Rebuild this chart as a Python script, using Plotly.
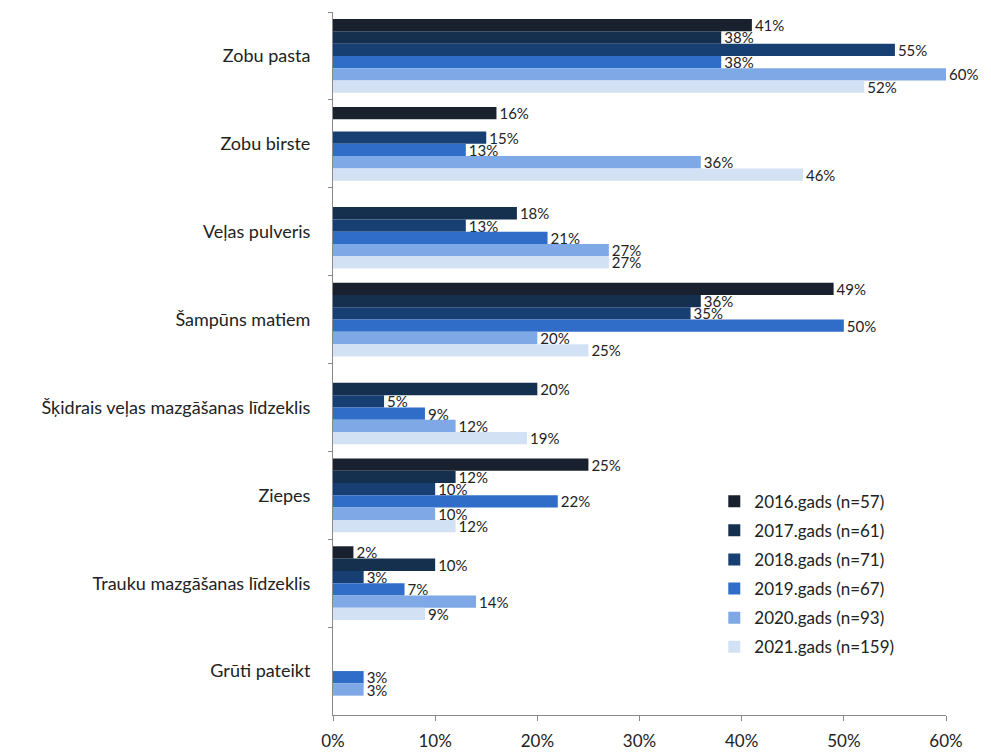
import plotly.graph_objects as go

# ── Data ────────────────────────────────────────────────────────────
CATEGORIES = [
    "Zobu pasta",
    "Zobu birste",
    "Veļas pulveris",
    "Šampūns matiem",
    "Šķidrais veļas mazgāšanas līdzeklis",
    "Ziepes",
    "Trauku mazgāšanas līdzeklis",
    "Grūti pateikt",
]

SERIES = [
    "2016.gads (n=57)",
    "2017.gads (n=61)",
    "2018.gads (n=71)",
    "2019.gads (n=67)",
    "2020.gads (n=93)",
    "2021.gads (n=159)",
]

Y2016 = [41, 16, None, 49, None, 25, 2, None]
Y2017 = [38, None, 18, 36, 20, 12, 10, None]
Y2018 = [55, 15, 13, 35, 5, 10, 3, None]
Y2019 = [38, 13, 21, 50, 9, 22, 7, 3]
Y2020 = [60, 36, 27, 20, 12, 10, 14, 3]
Y2021 = [52, 46, 27, 25, 19, 12, 9, None]

VALUES = [Y2016, Y2017, Y2018, Y2019, Y2020, Y2021]

COLORS = ["#18212d", "#152f4f", "#183f72", "#2f6dc9", "#7ea8e6", "#d3e1f5"]

FONT = "Lato, Calibri, Arial, sans-serif"

fig = go.Figure()
for name, vals, col in zip(SERIES, VALUES, COLORS):
    fig.add_trace(go.Bar(
        y=CATEGORIES,
        x=vals,
        name=name,
        orientation="h",
        marker=dict(color=col, line=dict(width=0)),
        text=[f"{v}%" if v is not None else "" for v in vals],
        textposition="outside",
        constraintext="none",
        cliponaxis=False,
        textfont=dict(family=FONT, size=15, color="#222222"),
        legendgroup=name,
    ))

# page body has an 8px margin, so the figure is a bit smaller than the window
fig.update_layout(
    width=983,
    height=745,
    barmode="group",
    bargap=0.16,
    bargroupgap=0,
    paper_bgcolor="white",
    plot_bgcolor="white",
    font=dict(family=FONT, size=17, color="#222222"),
    margin=dict(l=325, r=45, t=4, b=38),
    showlegend=True,
    legend=dict(
        x=0.622, y=0.329, xanchor="left", yanchor="top",
        font=dict(family=FONT, size=17, color="#222222"),
        tracegroupgap=4,
        itemwidth=30,
        bgcolor="rgba(0,0,0,0)",
    ),
    xaxis=dict(
        range=[0, 60],
        dtick=10,
        ticksuffix="%",
        showgrid=False,
        zeroline=False,
        showline=True,
        linecolor="#8a8a8a",
        linewidth=1,
        ticks="outside",
        ticklen=5,
        tickcolor="#8a8a8a",
        ticklabelstandoff=6,
        automargin=False,
        tickfont=dict(family=FONT, size=17, color="#222222"),
    ),
    yaxis=dict(
        autorange="reversed",
        showgrid=False,
        showline=True,
        linecolor="#8a8a8a",
        linewidth=1,
        ticks="outside",
        ticklen=4,
        tickcolor="#8a8a8a",
        tickson="boundaries",
        ticklabelstandoff=18,
        automargin=False,
        tickfont=dict(family=FONT, size=18, color="#222222"),
    ),
)

fig.write_html("out.html")
